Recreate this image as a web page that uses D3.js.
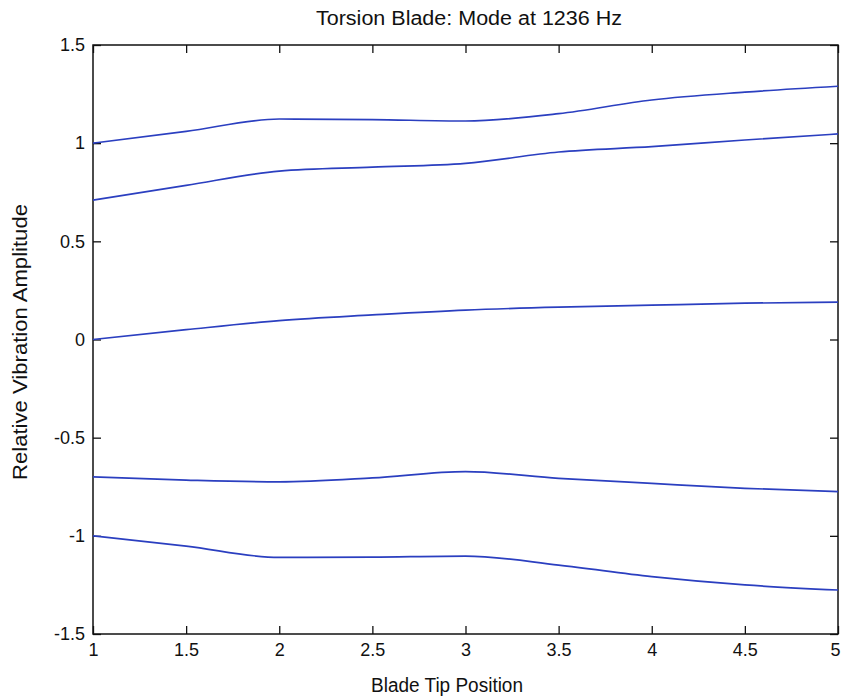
<!DOCTYPE html>
<html><head><meta charset="utf-8">
<script src="https://cdn.jsdelivr.net/npm/d3@7"></script>
<style>
body{margin:0;background:#fff;}
text{font-family:"Liberation Sans",Arial,sans-serif;fill:#111;}
</style></head>
<body><svg id="c" width="842" height="698"></svg>
<script>
const xPositions = [1, 1.5, 2, 2.5, 3, 3.5, 4, 4.5, 5];
const line1 = [1.00, 1.06, 1.123, 1.12, 1.113, 1.15, 1.22, 1.26, 1.29];
const line2 = [0.71, 0.785, 0.858, 0.878, 0.897, 0.955, 0.982, 1.016, 1.047];
const line3 = [0.00, 0.05, 0.096, 0.125, 0.15, 0.165, 0.175, 0.185, 0.19];
const line4 = [-0.70, -0.716, -0.725, -0.705, -0.673, -0.707, -0.733, -0.758, -0.775];
const line5 = [-1.00, -1.052, -1.11, -1.108, -1.103, -1.149, -1.208, -1.25, -1.276];
const seriesList = [line1, line2, line3, line4, line5];
const xTicks = [1, 1.5, 2, 2.5, 3, 3.5, 4, 4.5, 5];
const yTicks = [-1.5, -1, -0.5, 0, 0.5, 1, 1.5];
const title = "Torsion Blade: Mode at 1236 Hz";
const xLabel = "Blade Tip Position";
const yLabel = "Relative Vibration Amplitude";

const svg = d3.select("#c");
const L = 93, R = 838, T = 45, B = 634;
const x = d3.scaleLinear().domain([1, 5]).range([L, R]);
const y = d3.scaleLinear().domain([-1.5, 1.5]).range([B, T]);
const fmt = d => String(d);

function styleAxis(g){
  g.selectAll(".domain").remove();
  g.selectAll(".tick line").attr("stroke","#111").attr("stroke-width",1.3);
  g.selectAll(".tick text").style("font-size","18px").attr("fill","#111");
}
// bottom
const bx = svg.append("g").attr("transform",`translate(0,${B})`)
  .call(d3.axisBottom(x).tickValues(xTicks).tickFormat(fmt).tickSizeInner(-8).tickSizeOuter(0).tickPadding(9))
  .call(styleAxis);
bx.selectAll(".tick text").filter(d=>d===5).attr("dx","-3");
// top
svg.append("g").attr("transform",`translate(0,${T})`)
  .call(d3.axisTop(x).tickValues(xTicks).tickFormat("").tickSizeInner(-8).tickSizeOuter(0))
  .call(styleAxis);
// left
svg.append("g").attr("transform",`translate(${L},0)`)
  .call(d3.axisLeft(y).tickValues(yTicks).tickFormat(fmt).tickSizeInner(-8).tickSizeOuter(0).tickPadding(8))
  .call(styleAxis);
// right
svg.append("g").attr("transform",`translate(${R},0)`)
  .call(d3.axisRight(y).tickValues(yTicks).tickFormat("").tickSizeInner(-8).tickSizeOuter(0))
  .call(styleAxis);

svg.append("rect").attr("x",L).attr("y",T).attr("width",R-L).attr("height",B-T)
  .attr("fill","none").attr("stroke","#111").attr("stroke-width",1.5);

const line = d3.line().x((d,i)=>x(xPositions[i])).y(d=>y(d)).curve(d3.curveMonotoneX);
seriesList.forEach(s=>{
  svg.append("path").datum(s).attr("d",line).attr("fill","none")
    .attr("stroke","#2b3fc0").attr("stroke-width",1.7);
});

svg.append("text").attr("x",469).attr("y",25).attr("text-anchor","middle")
  .attr("textLength",306).attr("lengthAdjust","spacingAndGlyphs")
  .style("font-size","20px").text(title);
svg.append("text").attr("x",447).attr("y",692).attr("text-anchor","middle")
  .attr("textLength",152).attr("lengthAdjust","spacingAndGlyphs")
  .style("font-size","20px").text(xLabel);
svg.append("text").attr("transform",`translate(27,${342}) rotate(-90)`).attr("text-anchor","middle")
  .attr("textLength",276).attr("lengthAdjust","spacingAndGlyphs")
  .style("font-size","20px").text(yLabel);
</script></body></html>
